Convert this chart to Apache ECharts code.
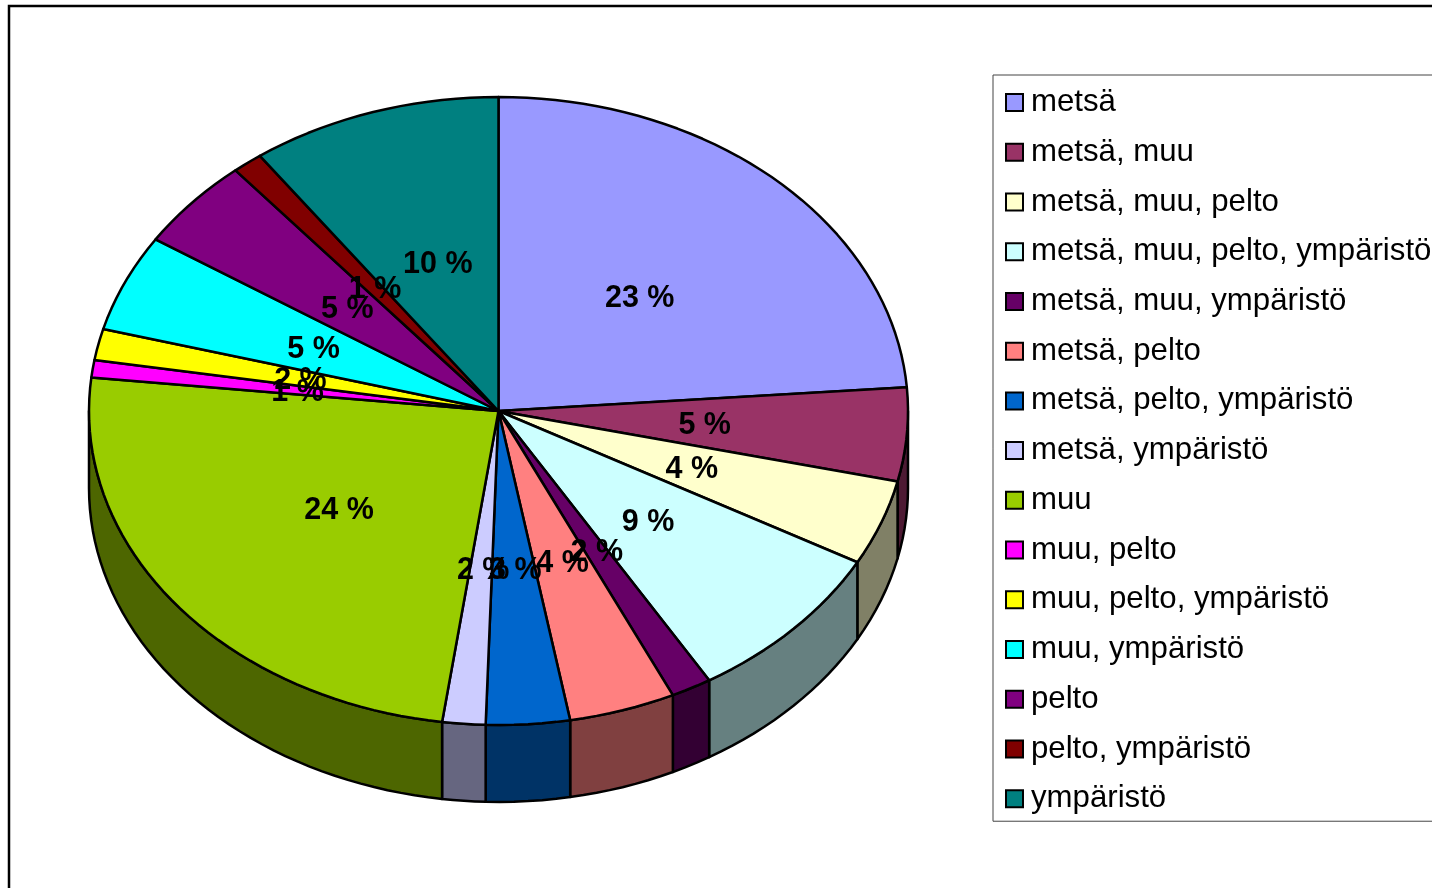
<!DOCTYPE html>
<html>
<head>
<meta charset="utf-8">
<title>Maankäyttö</title>
<script src="https://cdn.jsdelivr.net/npm/echarts@6/dist/echarts.min.js"></script>
<style>
html, body { margin: 0; padding: 0; background: #fff; overflow: hidden; }
#main { width: 1500px; height: 888px; }
</style>
</head>
<body>
<div id="main"></div>
<script>
var categories = ['metsä', 'metsä, muu', 'metsä, muu, pelto', 'metsä, muu, pelto, ympäristö',
    'metsä, muu, ympäristö', 'metsä, pelto', 'metsä, pelto, ympäristö', 'metsä, ympäristö',
    'muu', 'muu, pelto', 'muu, pelto, ympäristö', 'muu, ympäristö', 'pelto', 'pelto, ympäristö', 'ympäristö'];
// slice sizes (angles), so they differ a bit from the printed labels
var values = [23.8, 4.8, 4.4, 8.4, 1.6, 4.2, 3.3, 1.7, 24.5, 0.9, 1.6, 5.0, 4.7, 1.2, 9.9];
var percentLabels = ['23 %', '5 %', '4 %', '9 %', '2 %', '4 %', '3 %', '2 %', '24 %', '1 %', '2 %', '5 %', '5 %', '1 %', '10 %'];
var topColors = ['#9999FF', '#993366', '#FFFFCC', '#CCFFFF', '#660066', '#FF8080', '#0066CC', '#CCCCFF',
    '#99CC00', '#FF00FF', '#FFFF00', '#00FFFF', '#800080', '#800000', '#008080'];
var sideColors = ['#4D4D80', '#4D1A33', '#808066', '#668080', '#330033', '#804040', '#003366', '#666680',
    '#4D6600', '#800080', '#808000', '#008080', '#400040', '#400000', '#004040'];

var WALL = 0.245;   // wall height in axis units
var total = 0;
var starts = [];
for (var i = 0; i < values.length; i++) {
    starts.push(total);
    total += values[i];
}

function point(api, deg, r, drop) {
    var t = deg * Math.PI / 180;
    return api.coord([r * Math.sin(t), r * Math.cos(t) - drop]);
}

function arc(api, from, to, drop) {
    var pts = [];
    var steps = Math.max(2, Math.ceil((to - from) / 2));
    for (var s = 0; s <= steps; s++) {
        pts.push(point(api, from + (to - from) * s / steps, 1, drop));
    }
    return pts;
}

function renderSlice(params, api) {
    var idx = params.seriesIndex;
    var a = starts[idx] / total * 360;
    var b = (starts[idx] + values[idx]) / total * 360;
    var children = [];
    var line = { stroke: '#000', lineWidth: 2.5, lineJoin: 'round' };

    // side wall, only the front half of the ellipse shows
    var wa = Math.max(a, 90), wb = Math.min(b, 270);
    if (wb > wa) {
        var wall = arc(api, wa, wb, 0).concat(arc(api, wa, wb, WALL).reverse());
        children.push({
            type: 'polygon',
            shape: { points: wall },
            style: Object.assign({ fill: sideColors[idx] }, line)
        });
    }
    // top face
    children.push({
        type: 'polygon',
        z2: 5,
        shape: { points: [api.coord([0, 0])].concat(arc(api, a, b, 0)) },
        style: Object.assign({ fill: topColors[idx] }, line)
    });
    // label half way out
    var mid = point(api, (a + b) / 2, 0.5, 0);
    children.push({
        type: 'text',
        z2: 50,
        x: mid[0] + 2,
        y: mid[1] + 3,
        style: {
            text: percentLabels[idx],
            fill: '#000',
            font: 'bold 30.5px "Liberation Sans", Arial, sans-serif',
            align: 'center',
            verticalAlign: 'middle'
        }
    });
    return { type: 'group', children: children };
}

var series = [];
for (var j = 0; j < categories.length; j++) {
    series.push({
        name: categories[j],
        type: 'custom',
        coordinateSystem: 'cartesian2d',
        clip: false,
        silent: true,
        animation: false,
        itemStyle: { color: topColors[j] },
        data: [[0, 0]],
        renderItem: renderSlice
    });
}

var myChart = echarts.init(document.getElementById('main'), null, { renderer: 'canvas' });
myChart.setOption({
    animation: false,
    backgroundColor: '#fff',
    graphic: [{
        type: 'rect',
        shape: { x: 9, y: 6, width: 1700, height: 1100 },
        style: { fill: 'none', stroke: '#000', lineWidth: 2.5 },
        silent: true
    }],
    grid: { left: 89, top: 97, width: 819, height: 628, containLabel: false },
    xAxis: { type: 'value', min: -1, max: 1, show: false },
    yAxis: { type: 'value', min: -1, max: 1, show: false },
    legend: {
        orient: 'vertical',
        left: 993,
        top: 75,
        padding: [11.5, 10, 6.5, 12],
        backgroundColor: '#fff',
        borderColor: '#444',
        borderWidth: 1,
        icon: 'rect',
        itemWidth: 17,
        itemHeight: 17,
        itemGap: 17.73,
        selectedMode: false,
        itemStyle: { borderColor: '#000', borderWidth: 2 },
        textStyle: {
            color: '#000',
            fontFamily: '"Liberation Sans", Arial, sans-serif',
            fontSize: 31.2,
            lineHeight: 30,
            padding: [0, 0, 2, 3]
        },
        data: categories
    },
    series: series
});
</script>
</body>
</html>
